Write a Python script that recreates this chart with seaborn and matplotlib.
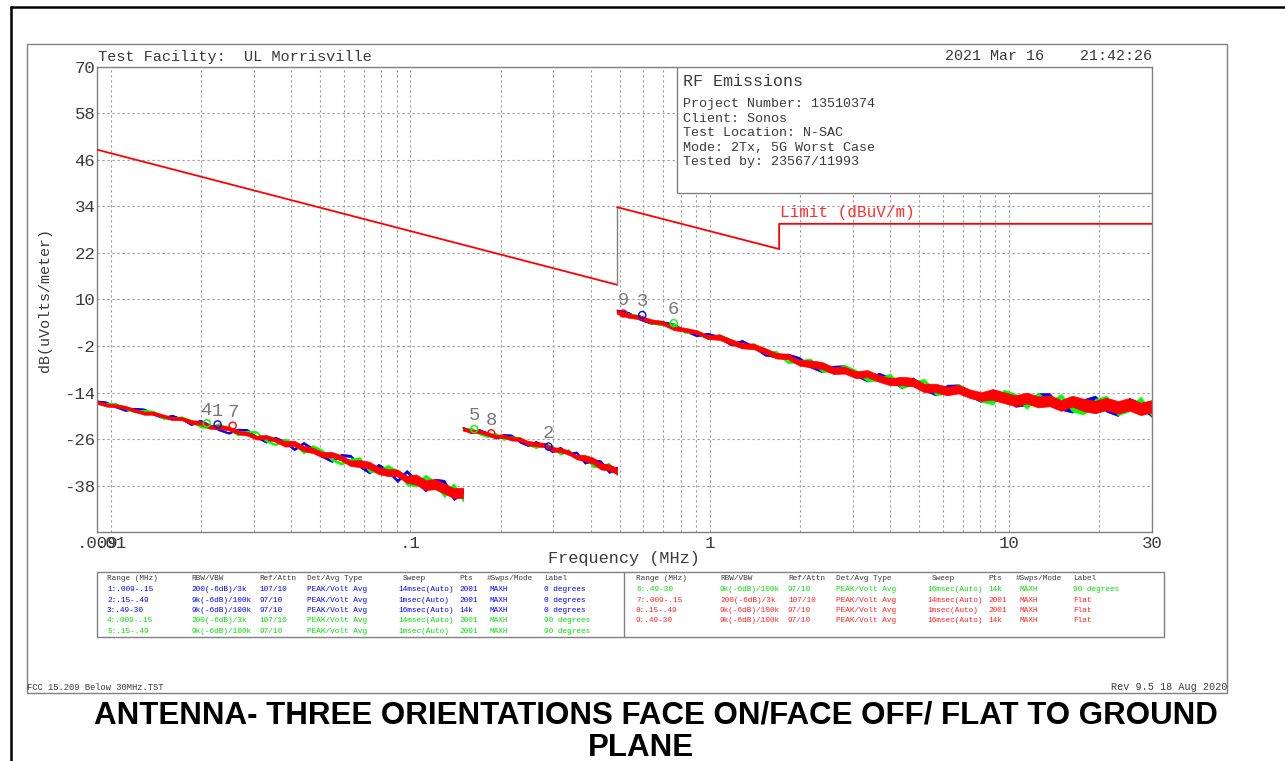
import numpy as np
import pandas as pd
import matplotlib
matplotlib.use("Agg")
import matplotlib.pyplot as plt
from matplotlib.patches import Rectangle
from matplotlib.lines import Line2D
from matplotlib.ticker import LogLocator, NullFormatter
import seaborn as sns

# ---- trace data (MHz, dBuV/m) ----
# range .009-.15 MHz
seg1_freq = [0.0090, 0.00967, 0.01040, 0.01117, 0.01201, 0.01291, 0.01387, 0.01491, 0.01603, 0.01722,
             0.01851, 0.01990, 0.02139, 0.02299, 0.02470, 0.02655, 0.02854, 0.03067, 0.03297, 0.03543,
             0.03808, 0.04093, 0.04399, 0.04728, 0.05082, 0.05462, 0.05870, 0.06309, 0.06781, 0.07288,
             0.07833, 0.08419, 0.09049, 0.09726, 0.10453, 0.11235, 0.12075, 0.12978, 0.13949, 0.1500]
seg1_blue = [-16.2, -16.5, -17.7, -18.6, -18.1, -18.3, -19.6, -20.5, -19.9, -20.8,
             -22.2, -21.2, -22.4, -23.6, -24.4, -23.5, -23.6, -25.5, -26.7, -25.6,
             -26.7, -28.6, -27.0, -28.5, -30.4, -31.6, -30.1, -30.3, -32.9, -34.5,
             -32.7, -34.2, -36.7, -34.3, -36.8, -38.9, -36.7, -37.0, -41.2, -39.5]
seg1_green = [-16.8, -16.8, -16.9, -18.1, -19.0, -18.6, -18.9, -20.6, -20.7, -20.3,
              -21.2, -22.8, -22.9, -22.1, -23.3, -24.9, -24.0, -24.2, -26.4, -27.4,
              -26.1, -27.2, -29.4, -27.8, -29.0, -31.2, -32.3, -31.3, -31.0, -34.1,
              -34.2, -33.0, -34.4, -37.4, -37.7, -35.7, -37.3, -40.4, -37.9, -41.5]
seg1_red = [-16.5, -17.2, -17.4, -17.8, -18.6, -19.3, -19.3, -20.0, -20.7, -20.7,
            -21.6, -21.8, -22.8, -22.9, -23.2, -24.2, -24.6, -25.6, -25.4, -26.2,
            -27.2, -27.1, -28.4, -28.9, -30.0, -30.0, -30.8, -32.2, -32.3, -32.7,
            -34.1, -34.6, -34.7, -36.3, -36.4, -37.8, -37.6, -38.7, -39.9, -39.8]
seg1_width = [0.4, 0.4, 0.4, 0.4, 0.4, 0.4, 0.4, 0.4, 0.4, 0.4,
              0.5, 0.5, 0.5, 0.5, 0.5, 0.5, 0.5, 0.5, 0.5, 0.5,
              0.7, 0.7, 0.7, 0.7, 0.7, 0.7, 0.7, 0.7, 0.9, 0.9,
              0.9, 0.9, 0.9, 0.9, 1.3, 1.3, 1.3, 1.3, 1.3, 1.3]

# range .15-.49 MHz
seg2_freq = [0.1500, 0.1596, 0.1699, 0.1808, 0.1925, 0.2048, 0.2180, 0.2320, 0.2470, 0.2628,
             0.2797, 0.2977, 0.3169, 0.3373, 0.3589, 0.3820, 0.4066, 0.4327, 0.4605, 0.4900]
seg2_blue = [-23.0, -24.3, -23.6, -24.4, -25.7, -24.9, -25.0, -26.7, -27.6, -26.7,
             -27.7, -29.2, -28.2, -29.8, -29.4, -32.0, -31.4, -31.8, -34.4, -33.4]
seg2_green = [-23.7, -23.2, -24.6, -25.3, -24.5, -26.0, -25.5, -25.6, -27.3, -28.1,
              -27.2, -27.9, -29.8, -28.8, -30.9, -30.3, -32.8, -33.1, -32.4, -35.0]
seg2_red = [-23.3, -24.0, -24.0, -24.6, -25.3, -25.2, -25.9, -26.0, -27.0, -27.3,
            -27.5, -28.6, -28.8, -29.4, -30.6, -30.9, -31.5, -33.0, -33.3, -34.2]
seg2_width = [0.45, 0.45, 0.45, 0.45, 0.45, 0.45, 0.45, 0.45, 0.55, 0.55,
              0.55, 0.55, 0.55, 0.55, 0.55, 0.8, 0.8, 0.8, 0.8, 0.8]

# range .49-30 MHz
seg3_freq = [0.490, 0.535, 0.584, 0.637, 0.695, 0.759, 0.828, 0.904, 0.987, 1.077,
             1.176, 1.283, 1.401, 1.529, 1.669, 1.821, 1.988, 2.170, 2.369, 2.585,
             2.822, 3.080, 3.362, 3.670, 4.005, 4.372, 4.772, 5.209, 5.685, 6.206,
             6.773, 7.393, 8.070, 8.808, 9.614, 10.49, 11.45, 12.50, 13.65, 14.90,
             16.26, 17.75, 19.37, 21.14, 23.08, 25.19, 27.50, 30.00]
seg3_blue = [7.2, 6.6, 4.9, 3.9, 4.2, 3.6, 1.9, 0.7, 1.2, 0.3,
             -1.6, -0.7, -2.2, -4.2, -4.6, -4.2, -5.1, -7.2, -8.4, -7.4,
             -7.3, -9.4, -10.8, -9.2, -10.4, -12.5, -10.5, -13.0, -14.3, -12.4,
             -12.3, -14.6, -16.0, -13.7, -14.7, -17.1, -16.7, -14.7, -14.7, -17.9,
             -18.6, -16.3, -15.4, -18.3, -19.4, -16.0, -17.2, -19.7]
seg3_green = [6.5, 6.2, 5.8, 4.0, 3.5, 3.6, 1.5, 1.8, -0.1, 0.8,
              -0.5, -2.3, -1.5, -3.7, -3.5, -6.1, -5.9, -5.6, -8.3, -8.4,
              -7.2, -8.5, -10.7, -10.6, -9.5, -12.5, -11.5, -10.9, -14.2, -13.9,
              -12.2, -13.7, -15.9, -16.5, -13.8, -14.8, -17.6, -14.6, -16.8, -14.9,
              -18.3, -19.0, -16.3, -15.4, -19.2, -18.2, -15.7, -19.5]
seg3_red = [6.8, 5.8, 5.4, 4.4, 4.0, 2.6, 2.2, 1.6, 0.3, 0.3,
            -0.9, -1.9, -2.1, -3.2, -4.5, -4.7, -6.3, -6.6, -7.0, -8.3,
            -8.2, -9.4, -9.1, -10.3, -11.2, -11.0, -11.3, -12.8, -12.8, -13.6,
            -13.1, -14.3, -15.0, -14.5, -15.3, -16.1, -15.4, -16.4, -16.1, -17.3,
            -16.2, -17.2, -17.7, -16.9, -17.8, -17.0, -18.2, -17.5]
seg3_width = [0.5, 0.5, 0.5, 0.5, 0.5, 0.5, 0.5, 0.5, 0.5, 0.7,
              0.7, 0.7, 0.7, 0.7, 0.7, 0.7, 0.7, 0.9, 0.9, 0.9,
              0.9, 0.9, 0.9, 0.9, 0.9, 1.1, 1.1, 1.1, 1.1, 1.1,
              1.1, 1.1, 1.1, 1.4, 1.4, 1.4, 1.4, 1.4, 1.4, 1.4,
              1.4, 1.6, 1.6, 1.6, 1.6, 1.6, 1.6, 1.6]

# FCC 15.209 limit
limit_freq = [0.009, 0.49, 0.49, 1.705, 1.705, 30]
limit_db = [48.6, 13.8, 33.8, 23.0, 29.5, 29.5]

# peak markers
marker_labels = ['4', '1', '7', '5', '8', '2', '9', '3', '6']
marker_freq = [0.0209, 0.0227, 0.0255, 0.1634, 0.1862, 0.2893, 0.514, 0.595, 0.758]
marker_db = [-21.9, -22.2, -22.5, -23.4, -24.5, -27.9, 6.4, 6.0, 3.9]
marker_trace = ['green', 'blue', 'red', 'green', 'red', 'blue', 'red', 'blue', 'green']

# axis ticks
ytick_vals = [70, 58, 46, 34, 22, 10, -2, -14, -26, -38]
xtick_vals = [0.009, 0.01, 0.1, 1, 10, 30]
xtick_text = ['.009', '.01', '.1', '1', '10', '30']

# trace table
table_header = ['Range (MHz)', 'RBW/VBW', 'Ref/Attn', 'Det/Avg Type', 'Sweep', 'Pts', '#Swps/Mode', 'Label']
table_left = [
    ['1:.009-.15', '200(-6dB)/3k', '107/10', 'PEAK/Volt Avg', '14msec(Auto)', '2001', 'MAXH', '0 degrees'],
    ['2:.15-.49', '9k(-6dB)/100k', '97/10', 'PEAK/Volt Avg', '1msec(Auto)', '2001', 'MAXH', '0 degrees'],
    ['3:.49-30', '9k(-6dB)/100k', '97/10', 'PEAK/Volt Avg', '16msec(Auto)', '14k', 'MAXH', '0 degrees'],
    ['4:.009-.15', '200(-6dB)/3k', '107/10', 'PEAK/Volt Avg', '14msec(Auto)', '2001', 'MAXH', '90 degrees'],
    ['5:.15-.49', '9k(-6dB)/100k', '97/10', 'PEAK/Volt Avg', '1msec(Auto)', '2001', 'MAXH', '90 degrees'],
]
table_left_colors = ['blue', 'blue', 'blue', 'green', 'green']
table_right = [
    ['6:.49-30', '9k(-6dB)/100k', '97/10', 'PEAK/Volt Avg', '16msec(Auto)', '14k', 'MAXH', '90 degrees'],
    ['7:.009-.15', '200(-6dB)/3k', '107/10', 'PEAK/Volt Avg', '14msec(Auto)', '2001', 'MAXH', 'Flat'],
    ['8:.15-.49', '9k(-6dB)/100k', '97/10', 'PEAK/Volt Avg', '1msec(Auto)', '2001', 'MAXH', 'Flat'],
    ['9:.49-30', '9k(-6dB)/100k', '97/10', 'PEAK/Volt Avg', '16msec(Auto)', '14k', 'MAXH', 'Flat'],
]
table_right_colors = ['green', 'red', 'red', 'red']

info_lines = ['Project Number: 13510374', 'Client: Sonos', 'Test Location: N-SAC',
              'Mode: 2Tx, 5G Worst Case', 'Tested by: 23567/11993']

trace_rgb = {'blue': '#0000ff', 'green': '#00ff00', 'red': '#ff0000'}
text_rgb = {'blue': '#0000ff', 'green': '#00e000', 'red': '#ff2020'}

sns.set_theme(style="white")
plt.rcParams['font.family'] = ['Liberation Mono', 'DejaVu Sans Mono']
plt.rcParams['axes.unicode_minus'] = False

W, H = 1285, 761
fig = plt.figure(figsize=(W / 100, H / 100), dpi=100)


def fpos(x, y):
    # pixel position -> figure fraction
    return x / W, 1 - y / H


ax = fig.add_axes([97.3 / W, 1 - 532.3 / H, (1152 - 97.3) / W, (532.3 - 66.7) / H])
ax.set_xscale('log')
ax.set_xlim(0.009, 30)
ax.set_ylim(-50, 70)

ink = '#3a3a3a'
grid_kw = dict(color='#9a9a9a', linestyle=(0, (2, 2.5)), linewidth=0.8)

# traces: blue/green thin and spiky, red band drawn last on top
for freq, traces, width in [(seg1_freq, [seg1_blue, seg1_green, seg1_red], seg1_width),
                            (seg2_freq, [seg2_blue, seg2_green, seg2_red], seg2_width),
                            (seg3_freq, [seg3_blue, seg3_green, seg3_red], seg3_width)]:
    for name, vals in zip(['blue', 'green', 'red'], traces):
        v = np.array(vals)
        w = np.array(width) * (1.0 if name == 'red' else 0.4)
        ax.fill_between(freq, v - w, v + w, color=trace_rgb[name], linewidth=0.5, zorder=2)
        sns.lineplot(x=freq, y=vals, color=trace_rgb[name], linewidth=0.9, sort=False,
                     estimator=None, ax=ax, zorder=2)

# limit line
sns.lineplot(x=limit_freq[0:2], y=limit_db[0:2], color='#ff0000', linewidth=1.3,
             sort=False, estimator=None, ax=ax, zorder=4)
sns.lineplot(x=limit_freq[1:3], y=limit_db[1:3], color='#808080', linewidth=1.0,
             sort=False, estimator=None, ax=ax, zorder=4)
sns.lineplot(x=limit_freq[2:6], y=limit_db[2:6], color='#ff0000', linewidth=1.3,
             sort=False, estimator=None, ax=ax, zorder=4)
ax.text(1.72, 32.4, 'Limit (dBuV/m)', color='#ff3030', fontsize=11.5, ha='left', va='center', zorder=5)

# markers
ax.scatter(marker_freq, marker_db, s=26, facecolors='none',
           edgecolors=[trace_rgb[c] for c in marker_trace], linewidths=1.0, zorder=6)
for lab, f, d in zip(marker_labels, marker_freq, marker_db):
    ax.annotate(lab, (f, d), xytext=(0, 9.5), textcoords='offset points', ha='center', va='center',
                fontsize=13.5, color='#777777', zorder=6)

# info box
ax.add_patch(Rectangle((0.5498, 0.7287), 0.4502, 0.2713, transform=ax.transAxes,
                       facecolor='white', edgecolor='#808080', linewidth=1.0, zorder=3))

# axes, ticks, grid
ax.set_xticks(xtick_vals)
ax.set_xticklabels(xtick_text)
ax.xaxis.set_minor_locator(LogLocator(base=10, subs=np.arange(1, 10), numticks=30))
ax.xaxis.set_minor_formatter(NullFormatter())
ax.set_yticks(ytick_vals)
ax.set_yticklabels([str(v) for v in ytick_vals])
ax.tick_params(axis='both', which='both', length=0, labelsize=12.5, labelcolor=ink)
ax.tick_params(axis='y', pad=1.5)
ax.tick_params(axis='x', pad=2.5)
ax.grid(which='major', axis='y', **grid_kw)
ax.grid(which='both', axis='x', **grid_kw)
ax.set_axisbelow(True)
for s in ax.spines.values():
    s.set_color('#808080')
    s.set_linewidth(1.0)
ax.set_xlabel('')
ax.set_ylabel('')

# header / axis titles
fig.text(*fpos(98, 56.5), 'Test Facility:  UL Morrisville', fontsize=11, color=ink, ha='left', va='center')
fig.text(*fpos(1152, 55.5), '2021 Mar 16    21:42:26', fontsize=10.8, color=ink, ha='right', va='center')
fig.text(*fpos(624, 558), 'Frequency (MHz)', fontsize=12.2, color=ink, ha='center', va='center')
fig.text(*fpos(45, 300), 'dB(uVolts/meter)', fontsize=10.8, color=ink, ha='center', va='center', rotation=90)

fig.text(*fpos(683, 81), 'RF Emissions', fontsize=12, color=ink, ha='left', va='center', zorder=7)
for i, line in enumerate(info_lines):
    fig.text(*fpos(683, 104 + 14.6 * i), line, fontsize=9.6, color=ink, ha='left', va='center', zorder=7)

# trace table under the plot
fig.add_artist(Rectangle(fpos(97, 637), (1164 - 97) / W, 65 / H, transform=fig.transFigure,
                         fill=False, edgecolor='#808080', linewidth=1.0))
fig.add_artist(Line2D([624 / W, 624 / W], [1 - 572 / H, 1 - 637 / H], transform=fig.transFigure,
                      color='#808080', linewidth=1.0))
head_cols = [0, 84, 152, 200, 296, 352, 380, 437]
val_cols = [0, 84, 152, 200, 291, 352, 383, 437]
for base, rows, colors in [(107, table_left, table_left_colors), (636, table_right, table_right_colors)]:
    for txt, off in zip(table_header, head_cols):
        fig.text(*fpos(base + off, 578.5), txt, fontsize=5.6, color=ink, ha='left', va='center')
    for r, (row, c) in enumerate(zip(rows, colors)):
        for txt, off in zip(row, val_cols):
            fig.text(*fpos(base + off, 589.5 + 10.5 * r), txt, fontsize=5.6, color=text_rgb[c],
                     ha='left', va='center')

# footer
fig.text(*fpos(27, 688), 'FCC 15.209 Below 30MHz.TST', fontsize=6.3, color=ink, ha='left', va='center')
fig.text(*fpos(1227, 687.5), 'Rev 9.5 18 Aug 2020', fontsize=7.3, color=ink, ha='right', va='center')

# frames
fig.add_artist(Rectangle(fpos(27, 693), 1200 / W, 649 / H, transform=fig.transFigure,
                         fill=False, edgecolor='#808080', linewidth=1.0))
fig.add_artist(Line2D([11 / W, 1.0], [1 - 7 / H, 1 - 7 / H], transform=fig.transFigure,
                      color='black', linewidth=1.8))
fig.add_artist(Line2D([11 / W, 11 / W], [1 - 7 / H, 0.0], transform=fig.transFigure,
                      color='black', linewidth=1.8))

# caption
fig.text(*fpos(656, 715), 'ANTENNA- THREE ORIENTATIONS FACE ON/FACE OFF/ FLAT TO GROUND',
         family='Liberation Sans', fontweight='bold', fontsize=22.5, color='black', ha='center', va='center')
fig.text(*fpos(641, 748), 'PLANE', family='Liberation Sans', fontweight='bold', fontsize=22.5,
         color='black', ha='center', va='center')

fig.savefig('out.png', dpi=100)
